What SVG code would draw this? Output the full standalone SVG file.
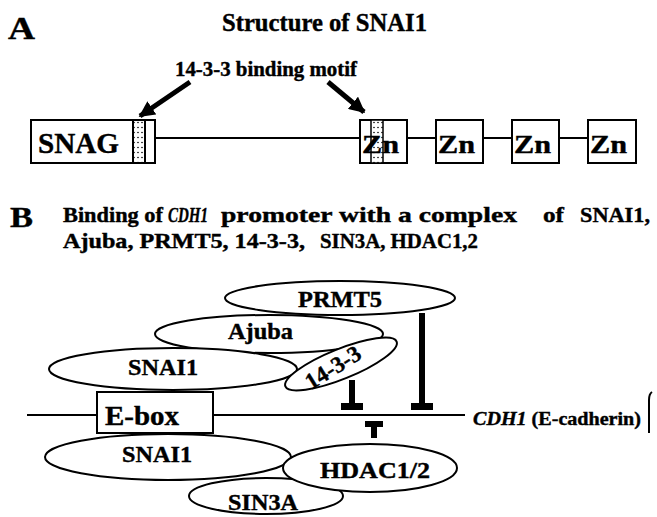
<svg xmlns="http://www.w3.org/2000/svg" width="657" height="517" viewBox="0 0 657 517">
<style>
text{font-family:"Liberation Serif","Times New Roman",serif;font-weight:bold;fill:#000;stroke:#000;stroke-width:0.4}
.box{fill:#fff;stroke:#000;stroke-width:2}
.ell{fill:#fff;stroke:#000;stroke-width:2}
.ln{stroke:#000;stroke-width:2;fill:none}
.thick{stroke:#000;stroke-width:5;fill:none}
.bar{fill:#000}
</style>
<defs>
<pattern id="dots" width="4" height="5" patternUnits="userSpaceOnUse">
<rect width="4" height="5" fill="#fff"/>
<circle cx="2" cy="2.5" r="0.8" fill="#000"/>
</pattern>
<marker id="ah" viewBox="0 0 10 10" refX="9" refY="5" markerWidth="3.2" markerHeight="3.2" orient="auto" markerUnits="strokeWidth">
<path d="M0,0 L10,5 L0,10 z" fill="#000"/>
</marker>
</defs>

<!-- Panel A -->
<g id="labelA"><text x="8" y="39" font-size="31" textLength="27" lengthAdjust="spacingAndGlyphs">A</text></g>
<g id="titleA"><text x="222" y="31" font-size="25" textLength="205" lengthAdjust="spacingAndGlyphs">Structure of SNAI1</text></g>
<g id="motifLabel"><text x="175" y="76" font-size="20" textLength="182" lengthAdjust="spacingAndGlyphs">14-3-3 binding motif</text></g>

<g id="connectorsA">
<line class="ln" x1="155" y1="138" x2="360" y2="138"/>
<line class="ln" x1="407" y1="138" x2="436" y2="138"/>
<line class="ln" x1="483" y1="138" x2="512" y2="138"/>
<line class="ln" x1="559" y1="138" x2="588" y2="138"/>
<line class="thick" x1="190" y1="82" x2="140" y2="116" marker-end="url(#ah)"/>
<line class="thick" x1="328" y1="82" x2="364" y2="112" marker-end="url(#ah)"/>
</g>

<g id="snag">
<rect class="box" x="31" y="120" width="124" height="43"/>
<rect x="133" y="120" width="12" height="43" fill="url(#dots)" stroke="#000" stroke-width="2"/>
<text x="38" y="153" font-size="30" textLength="81" lengthAdjust="spacingAndGlyphs">SNAG</text>
</g>
<g id="zn1">
<rect class="box" x="360" y="120" width="47" height="43"/>
<rect x="371" y="120" width="12" height="43" fill="url(#dots)" stroke="#000" stroke-width="1.5"/>
<text x="362" y="153" font-size="25" textLength="37" lengthAdjust="spacingAndGlyphs">Zn</text>
</g>
<g id="zn2">
<rect class="box" x="436" y="120" width="47" height="43"/>
<text x="438" y="153" font-size="25" textLength="37" lengthAdjust="spacingAndGlyphs">Zn</text>
</g>
<g id="zn3">
<rect class="box" x="512" y="120" width="47" height="43"/>
<text x="514" y="153" font-size="25" textLength="37" lengthAdjust="spacingAndGlyphs">Zn</text>
</g>
<g id="zn4">
<rect class="box" x="588" y="120" width="48" height="43"/>
<text x="590" y="153" font-size="25" textLength="37" lengthAdjust="spacingAndGlyphs">Zn</text>
</g>

<!-- Panel B -->
<g id="labelB"><text x="10" y="227" font-size="30" textLength="23" lengthAdjust="spacingAndGlyphs">B</text></g>
<g id="titleB">
<text x="63" y="222" font-size="21" textLength="100" lengthAdjust="spacingAndGlyphs">Binding of</text>
<text x="168" y="222" font-size="21" font-style="italic" textLength="40" lengthAdjust="spacingAndGlyphs">CDH1</text>
<text x="221" y="222" font-size="21" textLength="296" lengthAdjust="spacingAndGlyphs">promoter with a complex</text>
<text x="543" y="222" font-size="21" textLength="21" lengthAdjust="spacingAndGlyphs">of</text>
<text x="580" y="222" font-size="21" textLength="70" lengthAdjust="spacingAndGlyphs">SNAI1,</text>
<text x="63" y="248" font-size="21" textLength="242" lengthAdjust="spacingAndGlyphs">Ajuba, PRMT5, 14-3-3,</text>
<text x="320" y="248" font-size="21" textLength="158" lengthAdjust="spacingAndGlyphs">SIN3A, HDAC1,2</text>
</g>

<g id="connectorsB">
<line class="ln" x1="27" y1="415" x2="97" y2="415"/>
<line class="ln" x1="213" y1="415" x2="465" y2="415"/>
<path class="ln" d="M652,392 Q649,394 649,400 L649,433"/>
</g>

<g id="prmt5">
<ellipse class="ell" cx="340" cy="298" rx="115" ry="17"/>
<text x="298" y="307" font-size="23" textLength="84" lengthAdjust="spacingAndGlyphs">PRMT5</text>
</g>
<g id="ajuba">
<ellipse class="ell" cx="269" cy="334" rx="114" ry="19"/>
<text x="228" y="339" font-size="23" textLength="65" lengthAdjust="spacingAndGlyphs">Ajuba</text>
</g>
<g id="snai1top">
<ellipse class="ell" cx="173" cy="369" rx="124" ry="21"/>
<text x="128" y="375" font-size="23" textLength="70" lengthAdjust="spacingAndGlyphs">SNAI1</text>
</g>
<g id="p1433">
<ellipse class="ell" cx="341" cy="364" rx="60" ry="15" transform="rotate(-22 341 364)"/>
<text x="0" y="0" font-size="23" text-anchor="middle" transform="translate(337 374) rotate(-32)">14-3-3</text>
</g>
<g id="sin3a">
<ellipse class="ell" cx="266" cy="496" rx="77" ry="18"/>
<text x="228" y="510" font-size="23" textLength="70" lengthAdjust="spacingAndGlyphs">SIN3A</text>
</g>
<g id="snai1bottom">
<ellipse class="ell" cx="168" cy="457" rx="123" ry="23"/>
<text x="122" y="462" font-size="23" textLength="70" lengthAdjust="spacingAndGlyphs">SNAI1</text>
</g>
<g id="hdac">
<ellipse class="ell" cx="370" cy="468" rx="87" ry="24"/>
<text x="320" y="478" font-size="23" textLength="110" lengthAdjust="spacingAndGlyphs">HDAC1/2</text>
</g>
<g id="ebox">
<rect class="box" x="97" y="392" width="116" height="41"/>
<text x="105" y="425" font-size="27" textLength="74" lengthAdjust="spacingAndGlyphs">E-box</text>
</g>
<g id="cdh1">
<text x="473" y="425" font-size="18" textLength="168" lengthAdjust="spacingAndGlyphs"><tspan font-style="italic">CDH1</tspan> (E-cadherin)</text>
</g>

<g id="inhibitors">
<rect class="bar" x="349" y="380" width="6" height="27"/>
<rect class="bar" x="341" y="403" width="22" height="7"/>
<rect class="bar" x="419" y="313" width="6" height="94"/>
<rect class="bar" x="411" y="403" width="22" height="7"/>
<rect class="bar" x="365" y="421" width="18" height="6"/>
<rect class="bar" x="371" y="421" width="6" height="17"/>
</g>
</svg>
